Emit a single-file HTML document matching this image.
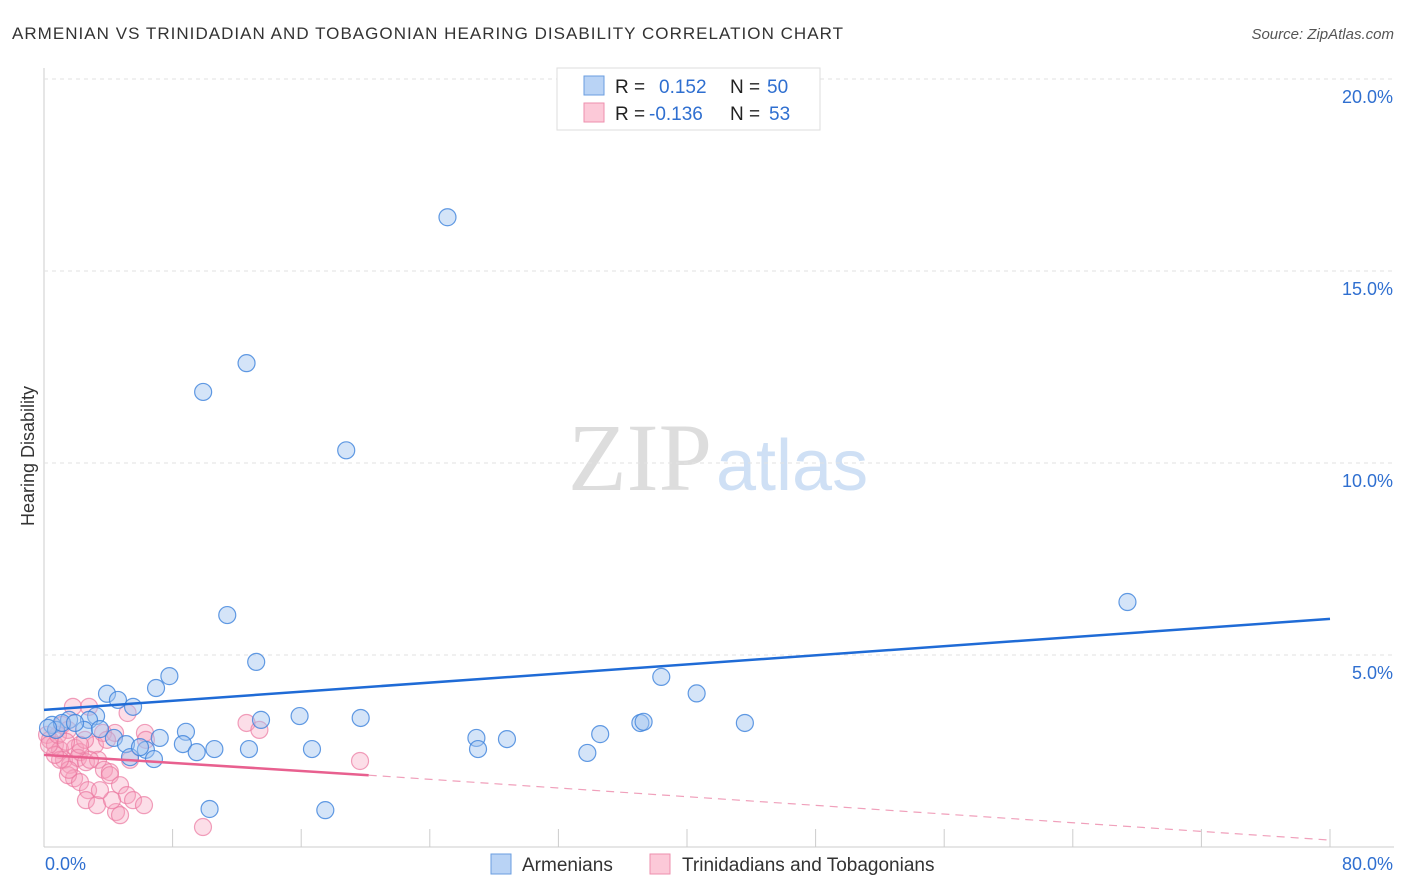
<!DOCTYPE html>
<html><head><meta charset="utf-8"><style>
body{margin:0;background:#fff;font-family:"Liberation Sans",sans-serif;}
svg{display:block}
</style></head><body>
<svg id="c" width="1406" height="892">
<text x="12" y="39" font-size="17" fill="#333" textLength="831">ARMENIAN VS TRINIDADIAN AND TOBAGONIAN HEARING DISABILITY CORRELATION CHART</text>
<text x="1394" y="39" font-size="15" fill="#555" font-style="italic" text-anchor="end">Source: ZipAtlas.com</text>
<text x="34" y="456" font-size="18" fill="#333" text-anchor="middle" transform="rotate(-90 34 456)">Hearing Disability</text>
<text x="712" y="490" font-size="96" fill="#ddd" font-family="Liberation Serif" text-anchor="end">ZIP</text>
<text x="716" y="490" font-size="72" fill="#cfe0f5">atlas</text>
<g id="grid"></g><g id="pts"></g><g id="lines"></g>
<g>
<rect x="557" y="68" width="263" height="62" fill="#fff" stroke="#ddd"/>
<rect x="584" y="76" width="20" height="19" fill="#b9d3f5" stroke="#6a9ee0"/>
<rect x="584" y="103" width="20" height="19" fill="#fcc9d8" stroke="#ee8fae"/>
<text x="615" y="93" font-size="19" fill="#222">R = </text><text x="659" y="93" font-size="19" fill="#2f6fd0">0.152</text>
<text x="730" y="93" font-size="19" fill="#222">N = </text><text x="767" y="93" font-size="19" fill="#2f6fd0">50</text>
<text x="615" y="120" font-size="19" fill="#222">R = </text><text x="649" y="120" font-size="19" fill="#2f6fd0">-0.136</text>
<text x="730" y="120" font-size="19" fill="#222">N = </text><text x="769" y="120" font-size="19" fill="#2f6fd0">53</text>
</g>
<g>
<rect x="491" y="854" width="20" height="20" fill="#b9d3f5" stroke="#6a9ee0"/>
<text x="522" y="871" font-size="19" fill="#333">Armenians</text>
<rect x="650" y="854" width="20" height="20" fill="#fcc9d8" stroke="#ee8fae"/>
<text x="682" y="871" font-size="19" fill="#333">Trinidadians and Tobagonians</text>
</g>
<text x="45" y="870" font-size="18" fill="#2f6fd0">0.0%</text>
<text x="1393" y="870" font-size="18" fill="#2f6fd0" text-anchor="end">80.0%</text>
</svg>
<script>
const yTicks=[5,10,15,20];
const blueX=[25.1,12.6,9.9,18.8,67.4,11.4,13.2,7.8,6.97,38.4,3.92,4.6,5.54,40.6,3.24,2.8,1.56,0.5,0.75,2.49,7.2,8.83,13.5,15.9,19.7,37.1,37.3,43.6,26.9,28.8,34.6,4.35,5.1,8.64,6.34,9.5,10.6,12.75,16.67,27,33.8,5.35,6.84,10.3,17.5,1.12,0.25,1.93,3.48,5.97];
const blueY=[16.4,12.6,11.85,10.33,6.38,6.04,4.82,4.45,4.14,4.43,3.99,3.83,3.65,4.0,3.41,3.31,3.31,3.18,3.05,3.05,2.84,3.0,3.31,3.41,3.36,3.23,3.26,3.23,2.84,2.81,2.94,2.84,2.68,2.68,2.53,2.47,2.55,2.55,2.55,2.55,2.45,2.34,2.29,0.99,0.96,3.23,3.1,3.23,3.07,2.6];
const pinkX=[1.8,2.8,5.2,0.19,0.37,0.68,1.0,1.12,1.49,1.93,2.24,3.17,3.67,4.42,3.92,6.28,6.34,1.24,1.62,2.12,2.61,3.36,3.73,4.1,1.87,1.49,2.24,2.74,4.1,4.73,5.16,5.54,2.61,3.3,4.48,4.73,6.22,1.55,1.0,12.6,13.4,19.66,9.89,0.68,2.55,5.35,4.23,2.24,2.86,3.48,0.31,0.87,1.37];
const pinkY=[3.65,3.65,3.49,2.92,2.79,2.66,2.53,3.18,3.05,2.58,2.47,2.66,2.97,2.97,2.79,2.97,2.79,2.27,2.14,2.32,2.21,2.27,2.01,1.95,1.79,1.87,1.69,1.48,1.87,1.61,1.35,1.22,1.22,1.09,0.91,0.83,1.09,2.01,2.27,3.23,3.05,2.24,0.52,2.4,2.79,2.27,1.22,2.66,2.27,1.48,2.66,2.92,2.74];
const X=v=>44+v/80*1286, Y=v=>847-v*38.4;
const ns="http://www.w3.org/2000/svg";
function mk(t,a,p){const e=document.createElementNS(ns,t);for(const k in a)e.setAttribute(k,a[k]);p.appendChild(e);return e;}
const g=document.getElementById('grid');
let ax=mk('line',{x1:44,y1:68,x2:44,y2:847,stroke:'#ccc'},g);


let bx=mk('line',{x1:44,y1:847,x2:1394,y2:847,stroke:'#ccc'},g);


for(let i=1;i<=10;i++){const t=mk('line',{x1:X(i*8),y1:829,x2:X(i*8),y2:847,stroke:'#ccc'},g);

}
yTicks.forEach(v=>{const l=mk('line',{x1:44,y1:Y(v),x2:1394,y2:Y(v),stroke:'#e2e2e2','stroke-dasharray':'4,4'},g);


const t=mk('text',{x:1393,y:Y(v)+24,'font-size':18,fill:'#2f6fd0','text-anchor':'end'},g);t.textContent=v.toFixed(1)+'%';

});
const p=document.getElementById('pts');
pinkX.forEach((v,i)=>{const c=mk('circle',{cx:X(v),cy:Y(pinkY[i]),r:8.5,fill:'rgba(247,160,190,0.35)',stroke:'rgba(235,120,160,0.7)','stroke-width':1.2},p);

});
blueX.forEach((v,i)=>{const c=mk('circle',{cx:X(v),cy:Y(blueY[i]),r:8.5,fill:'rgba(160,195,240,0.45)',stroke:'rgba(60,130,220,0.8)','stroke-width':1.2},p);

});
const L=document.getElementById('lines');
let b=mk('line',{x1:X(0),y1:Y(3.57),x2:X(80),y2:Y(5.94),stroke:'#1f6bd6','stroke-width':2.5},L);


let pk=mk('line',{x1:X(0),y1:Y(2.40),x2:X(20.2),y2:Y(1.87),stroke:'#e8608f','stroke-width':2.5},L);


let pd=mk('line',{x1:X(20.2),y1:Y(1.87),x2:X(80),y2:Y(0.18),stroke:'#f0a0bb','stroke-width':1.2,'stroke-dasharray':'8,6'},L);


</script>
</body></html>
